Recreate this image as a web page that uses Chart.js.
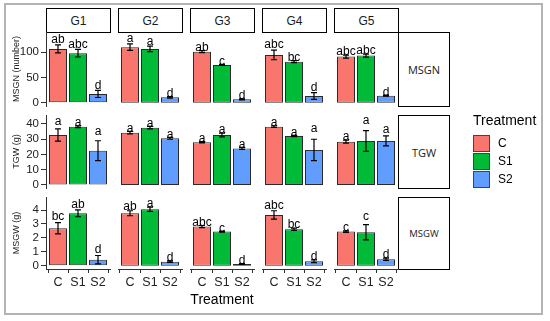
<!DOCTYPE html>
<html>
<head>
<meta charset="utf-8">
<script src="https://cdn.jsdelivr.net/npm/chart.js@4.4.1/dist/chart.umd.min.js"></script>
<style>
  * { margin: 0; padding: 0; box-sizing: border-box; }
  body {
    width: 550px;
    height: 321px;
    position: relative;
    overflow: hidden;
    background: #fff;
    font-family: "Liberation Sans", Arial, sans-serif;
    color: #000;
  }
  .frame {
    position: absolute;
    left: 4px; top: 3px;
    width: 539px; height: 312px;
    border: 2px solid #b4b4b4;
  }
  .strip {
    position: absolute;
    border: 1px solid #000;
    background: #fff;
    display: flex;
    align-items: center;
    justify-content: center;
    color: #1a1a1a;
    font-size: 12px;
  }
  .strip.side { font-family: "Open Sans", "DejaVu Sans", sans-serif; font-size: 11px; }
  .panel { position: absolute; }
  .xtitle {
    position: absolute;
    left: 122px; width: 200px; top: 291px;
    text-align: center;
    font-size: 14px;
  }
  .legend { position: absolute; left: 473px; top: 112px; }
  .legend .title { font-size: 14px; margin-bottom: 6px; }
  .legend .row { display: flex; align-items: center; height: 18px; }
  .legend .key { width: 17px; height: 17px; border: 1px solid #444; margin-right: 8px; }
  .legend .lab { font-size: 12px; }
</style>
</head>
<body>
<div class="frame"></div>
<div id="root"></div>
<div class="xtitle">Treatment</div>
<div class="legend" id="legend"></div>

<script>
  const groups = ['G1', 'G2', 'G3', 'G4', 'G5'];
  const treatments = ['C', 'S1', 'S2'];
  const traits = ['MSGN', 'TGW', 'MSGW'];
  const yTitles = ['MSGN (number)', 'TGW (g)', 'MSGW (g)'];
  const fills = ['#F8766D', '#00BA38', '#619CFF'];
  const nRep = 3;

  // means and standard errors per group, order C, S1, S2
  const msgnMean = [[106.5, 98, 17.3], [110, 106.5, 10.7], [101, 74.8, 6.7], [94.6, 81.3, 13.3], [91.3, 93.3, 14]];
  const msgnSe = [[8, 7.5, 7], [6.5, 5.5, 1.5], [2, 1, 1], [9.5, 2, 6.5], [3, 3, 1]];
  const msgnLetters = [['ab', 'abc', 'd'], ['a', 'a', 'd'], ['ab', 'c', 'd'], ['abc', 'bc', 'd'], ['abc', 'abc', 'd']];

  const tgwMean = [[32.8, 38.2, 22.5], [34.3, 37.6, 30.6], [28, 32.8, 24], [38.2, 32.1, 23], [28.4, 28.9, 28.9]];
  const tgwSe = [[4, 0.6, 6.5], [0.8, 0.8, 0.6], [0.4, 1.2, 0.6], [0.5, 0.4, 7], [1, 6.8, 3.3]];
  const tgwLetters = [['a', 'a', 'a'], ['a', 'a', 'a'], ['a', 'a', 'a'], ['a', 'a', 'a'], ['a', 'a', 'a']];

  const msgwMean = [[2.69, 3.77, 0.43], [3.77, 4.06, 0.29], [2.81, 2.45, 0.12], [3.65, 2.62, 0.32], [2.45, 2.4, 0.46]];
  const msgwSe = [[0.4, 0.25, 0.3], [0.18, 0.15, 0.05], [0.08, 0.04, 0.03], [0.3, 0.08, 0.1], [0.06, 0.55, 0.08]];
  const msgwLetters = [['bc', 'ab', 'd'], ['ab', 'a', 'd'], ['abc', 'c', 'd'], ['abc', 'bc', 'd'], ['c', 'c', 'd']];

  const msgnTicks = [0, 50, 100];
  const tgwTicks = [0, 10, 20, 30, 40];
  const msgwTicks = [0, 1, 2, 3, 4];

  const rowMeans = [msgnMean, tgwMean, msgwMean];
  const rowSe = [msgnSe, tgwSe, msgwSe];
  const rowLetters = [msgnLetters, tgwLetters, msgwLetters];
  const rowTicks = [msgnTicks, tgwTicks, msgwTicks];
  const yLimits = [[-6.5, 140], [-2, 45.9], [-0.24, 4.94]];

  // layout (px)
  const colLeft = groups.map((g, i) => 46 + 72 * i);
  const panelW = 64;
  const rowTop = [32, 115, 197];
  const rowH = [74, 73, 72];
  const yAxisW = 40;
  const xAxisH = 22;
  const root = document.getElementById('root');

  // strips
  groups.forEach((g, c) => {
    const s = document.createElement('div');
    s.className = 'strip';
    s.style.cssText = `left:${colLeft[c]}px;top:8px;width:${panelW + 1}px;height:25px;`;
    s.textContent = g;
    root.appendChild(s);
  });
  traits.forEach((t, r) => {
    const s = document.createElement('div');
    s.className = 'strip side';
    s.style.cssText = `left:398px;top:${rowTop[r]}px;width:52px;height:${rowH[r] + 1}px;` +
      (t === 'MSGW' ? 'font-size:9.5px;' : '');
    s.textContent = t;
    root.appendChild(s);
  });

  function errorBars(mean, se, letters) {
    return {
      id: 'errorBars',
      afterDatasetsDraw(chart) {
        const {ctx} = chart;
        const y = chart.scales.y;
        const meta = chart.getDatasetMeta(0);
        ctx.save();
        meta.data.forEach((bar, i) => {
          const top = y.getPixelForValue(mean[i] + se[i]);
          const bot = y.getPixelForValue(mean[i] - se[i]);
          ctx.strokeStyle = '#000';
          ctx.lineWidth = 1.2;
          ctx.beginPath();
          ctx.moveTo(bar.x, top); ctx.lineTo(bar.x, bot);
          ctx.moveTo(bar.x - 3, top); ctx.lineTo(bar.x + 3, top);
          ctx.moveTo(bar.x - 3, bot); ctx.lineTo(bar.x + 3, bot);
          ctx.stroke();
          ctx.fillStyle = '#000';
          ctx.font = '12px "Liberation Sans", Arial, sans-serif';
          ctx.textAlign = 'center';
          ctx.textBaseline = 'alphabetic';
          ctx.fillText(letters[i], bar.x, y.getPixelForValue(mean[i] + se[i] * Math.sqrt(nRep)) + 1);
        });
        ctx.restore();
      }
    };
  }

  function buildPanel(r, c) {
    const first = c === 0;
    const last = r === 2;
    const padT = 10, padB = last ? 2 : 10, padR = 4, padL = first ? 0 : 4;
    const w = panelW + padL + padR + (first ? yAxisW : 0);
    const h = padT + rowH[r] + (last ? xAxisH : 0) + padB;
    const wrap = document.createElement('div');
    wrap.className = 'panel';
    wrap.style.left = (colLeft[c] - padL - (first ? yAxisW : 0)) + 'px';
    wrap.style.top = (rowTop[r] - padT) + 'px';
    const canvas = document.createElement('canvas');
    canvas.width = w;
    canvas.height = h;
    wrap.appendChild(canvas);
    root.appendChild(wrap);

    const mean = rowMeans[r][c];
    const se = rowSe[r][c];
    const letters = rowLetters[r][c];

    new Chart(canvas, {
      type: 'bar',
      data: {
        datasets: [{
          data: treatments.map((t, i) => ({x: i + 1, y: mean[i]})),
          backgroundColor: fills,
          borderColor: '#2a2a2a',
          borderWidth: 1,
          borderSkipped: false,
          barPercentage: 0.9,
          categoryPercentage: 1,
        }],
      },
      options: {
        responsive: false,
        animation: false,
        devicePixelRatio: 1,
        layout: {padding: {top: padT, bottom: padB, left: padL, right: padR}},
        plugins: {legend: {display: false}, tooltip: {enabled: false}},
        scales: {
          x: {
            type: 'linear',
            min: 0.4,
            max: 3.6,
            offset: false,
            display: last,
            grid: {display: true, drawOnChartArea: false, drawTicks: true, tickLength: 4, color: '#333'},
            border: {display: true, color: '#333', width: 1},
            ticks: {
              color: '#222',
              font: {size: 12.5, family: '"Liberation Sans", Arial, sans-serif'},
              padding: 2,
              maxRotation: 0,
              callback: v => treatments[Math.round(v) - 1],
            },
            afterBuildTicks: s => { s.ticks = treatments.map((t, i) => ({value: i + 1})); },
            afterFit: s => { s.height = last ? xAxisH : 0; },
          },
          y: {
            min: yLimits[r][0],
            max: yLimits[r][1],
            display: first,
            grid: {display: true, drawOnChartArea: false, drawTicks: true, tickLength: 5, color: '#333'},
            border: {display: true, color: '#333', width: 1},
            ticks: {
              color: '#222',
              font: {size: 11.5, family: '"Liberation Sans", Arial, sans-serif'},
              padding: 2,
            },
            title: {
              display: true,
              text: yTitles[r],
              color: '#222',
              font: {size: 9, family: '"Liberation Sans", Arial, sans-serif'},
              padding: {top: 5, bottom: 0},
            },
            afterBuildTicks: s => { s.ticks = rowTicks[r].map(v => ({value: v})); },
            afterFit: s => { s.width = first ? yAxisW : 0; },
          },
        },
      },
      plugins: [errorBars(mean, se, letters)],
    });
  }

  traits.forEach((t, r) => groups.forEach((g, c) => buildPanel(r, c)));

  // legend
  const legend = document.getElementById('legend');
  legend.innerHTML = '<div class="title">Treatment</div>' +
    treatments.map((t, i) =>
      `<div class="row"><div class="key" style="background:${fills[i]}"></div><div class="lab">${t}</div></div>`
    ).join('');
</script>
</body>
</html>
